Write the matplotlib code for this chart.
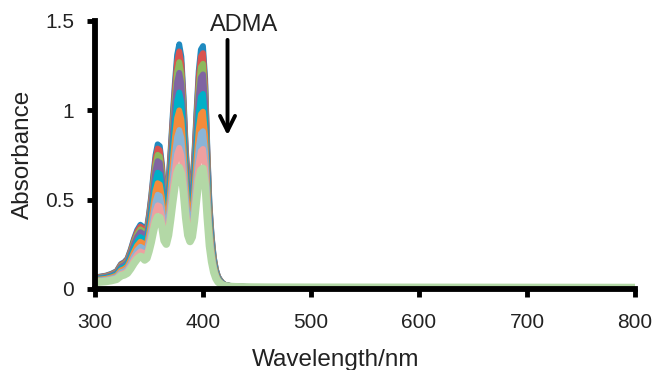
import matplotlib
matplotlib.use("Agg")
import matplotlib.pyplot as plt
import numpy as np


# ==============================
# DATA
# ==============================
# wavelength grid (nm) and the top (first) spectrum
wavelength = [300, 305, 310, 315, 320, 324, 327, 330, 333, 336, 339, 342, 344,
              346, 348, 350, 352, 354, 356, 358, 360, 362, 364, 366, 368, 370,
              372, 374, 376, 378, 380, 382, 384, 386, 388, 390, 392, 394, 396,
              398, 400, 402, 404, 406, 408, 410, 412, 414, 416, 418, 420, 425,
              430, 440, 460, 500, 600, 700, 800]
top_spectrum = [0.065, 0.07, 0.075, 0.085, 0.10, 0.14, 0.15, 0.17, 0.22, 0.28,
                0.33, 0.36, 0.35, 0.32, 0.34, 0.42, 0.52, 0.64, 0.75, 0.81,
                0.80, 0.70, 0.54, 0.50, 0.60, 0.78, 0.98, 1.16, 1.31, 1.37,
                1.30, 1.08, 0.80, 0.60, 0.53, 0.58, 0.76, 1.00, 1.22, 1.34,
                1.36, 1.18, 0.80, 0.48, 0.30, 0.18, 0.11, 0.07, 0.05, 0.035,
                0.025, 0.018, 0.015, 0.012, 0.01, 0.009, 0.008, 0.007, 0.006]

# absorbance at the 378 nm maximum for each successive scan
peak_378 = [1.37, 1.33, 1.27, 1.21, 1.10, 1.00, 0.89, 0.79, 0.68]
baseline = 0.01

colors = ["#1f8ac0", "#d9534f", "#8cb85c", "#8064a2", "#00b0c8",
          "#f58b3a", "#8ab4d6", "#eea0a0", "#b3d8a6"]


# ==============================
# MAIN
# ==============================
def main():
    wl = np.array(wavelength)
    top = np.array(top_spectrum)

    fig = plt.figure(figsize=(6.53, 3.70), dpi=100)
    ax = fig.add_axes([95 / 653, 81 / 370, 540 / 653, 268 / 370])

    for i, (p, c) in enumerate(zip(peak_378, colors)):
        s = (p - baseline) / (peak_378[0] - baseline)
        y = baseline + s * (top - baseline)
        lw = 5.5 if i == len(peak_378) - 1 else 4.2
        ax.plot(wl, y, color=c, lw=lw, solid_capstyle="round",
                solid_joinstyle="round")

    ax.set_xlim(300, 800)
    ax.set_ylim(0, 1.5)
    ax.set_xticks([300, 400, 500, 600, 700, 800])
    ax.set_yticks([0, 0.5, 1, 1.5])
    ax.set_yticklabels(["0", "0.5", "1", "1.5"])

    for side in ["top", "right"]:
        ax.spines[side].set_visible(False)
    for side in ["left", "bottom"]:
        ax.spines[side].set_linewidth(4.2)
        ax.spines[side].set_color("black")
        ax.spines[side].set_capstyle("projecting")

    ax.tick_params(axis="both", direction="out", length=6, width=3.5,
                   colors="black", labelcolor="#222222", labelsize=15)
    ax.tick_params(axis="x", pad=11)
    ax.tick_params(axis="y", pad=9)

    fig.text(336 / 653, 4 / 370, "Wavelength/nm", ha="center",
             va="baseline", fontsize=17.5, color="#222222")
    fig.text(23 / 653, 1 - 154 / 370, "Absorbance", ha="center",
             va="center", rotation=90, fontsize=17.5, color="#222222")

    ax.annotate("", xy=(422.7, 0.845), xytext=(422.7, 1.41),
                arrowprops=dict(arrowstyle="->", lw=2.8, color="black",
                                mutation_scale=27),
                annotation_clip=False)
    ax.text(438, 1.475, "ADMA", ha="center", va="center", fontsize=17,
            color="#222222", clip_on=False)

    fig.savefig("out.png", dpi=100)


# ==============================
# RUN
# ==============================
if __name__ == "__main__":
    plt.rcParams["font.family"] = ["Liberation Sans", "DejaVu Sans"]
    main()
